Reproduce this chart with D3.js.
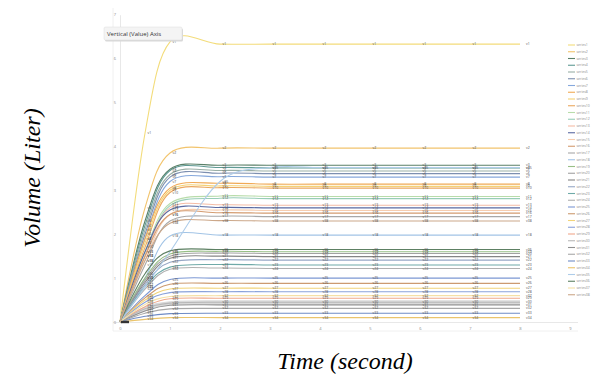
<!DOCTYPE html>
<html>
<head>
<meta charset="utf-8">
<script src="https://cdn.jsdelivr.net/npm/d3@7"></script>
<style>
  html, body { margin: 0; padding: 0; background: #fff; }
  svg { display: block; }
</style>
</head>
<body>
<div id="root"></div>
<script>
// sample times (second)
const times = [0, 0.5, 1, 2, 3, 4, 5, 6, 7, 8];
const xTicks = [0, 1, 2, 3, 4, 5, 6, 7, 8, 9];
const yTicks = [0, 1, 2, 3, 4, 5, 6, 7];

const seriesNames = d3.range(1, 39).map(i => "series" + i);
const pointLabels = d3.range(1, 39).map(i => "v" + i);

const seriesColors = [
  "#f3dc7a", "#f2c46d", "#5a8068", "#5f9a94", "#9aafa6", "#7d8fb0", "#86a8dc", "#f0aa55",
  "#f5d275", "#eaa860", "#b8dcaa", "#98cdb8", "#f4bca6", "#5a6aa2", "#f6cdb0", "#d49c70",
  "#a8a8a8", "#a2c4e6", "#98bf86", "#a2a2a2", "#858585", "#97a8c6", "#6faaa8", "#b0b0b0",
  "#7c98d4", "#cc9a70", "#f2d47a", "#8aa2da", "#f0a88c", "#b8b8b8", "#909090", "#a8a8a8",
  "#6f8cc6", "#eac46c", "#aecce9", "#5d8063", "#f5e0a6", "#cca88a"
];

// volume (liter) at each sample time
const volumes = [
  [0, 4.30, 6.38, 6.33, 6.33, 6.33, 6.33, 6.33, 6.33, 6.33],
  [0, 2.60, 3.85, 3.96, 3.96, 3.96, 3.96, 3.96, 3.96, 3.96],
  [0, 2.30, 3.48, 3.57, 3.57, 3.57, 3.57, 3.57, 3.57, 3.57],
  [0, 2.20, 3.45, 3.52, 3.51, 3.51, 3.51, 3.51, 3.51, 3.51],
  [0, 2.10, 3.36, 3.45, 3.44, 3.44, 3.44, 3.44, 3.44, 3.44],
  [0, 2.00, 3.30, 3.39, 3.38, 3.38, 3.38, 3.38, 3.38, 3.38],
  [0, 1.90, 3.20, 3.31, 3.30, 3.30, 3.30, 3.30, 3.30, 3.30],
  [0, 1.90, 3.05, 3.16, 3.14, 3.14, 3.14, 3.14, 3.14, 3.14],
  [0, 1.80, 3.00, 3.10, 3.09, 3.09, 3.09, 3.09, 3.09, 3.09],
  [0, 1.70, 2.95, 3.06, 3.05, 3.05, 3.05, 3.05, 3.05, 3.05],
  [0, 1.60, 2.70, 2.87, 2.86, 2.86, 2.86, 2.86, 2.86, 2.86],
  [0, 1.50, 2.65, 2.82, 2.81, 2.81, 2.81, 2.81, 2.81, 2.81],
  [0, 1.50, 2.60, 2.67, 2.66, 2.66, 2.66, 2.66, 2.66, 2.66],
  [0, 1.60, 2.55, 2.61, 2.60, 2.60, 2.60, 2.60, 2.60, 2.60],
  [0, 1.40, 2.45, 2.55, 2.54, 2.54, 2.54, 2.54, 2.54, 2.54],
  [0, 1.50, 2.45, 2.49, 2.48, 2.48, 2.48, 2.48, 2.48, 2.48],
  [0, 1.30, 2.30, 2.41, 2.40, 2.40, 2.40, 2.40, 2.40, 2.40],
  [0, 1.00, 1.96, 1.98, 1.98, 1.98, 1.98, 1.98, 1.98, 1.98],
  [0, 1.00, 1.55, 1.61, 1.60, 1.60, 1.60, 1.60, 1.60, 1.60],
  [0, 0.95, 1.50, 1.57, 1.56, 1.56, 1.56, 1.56, 1.56, 1.56],
  [0, 0.90, 1.45, 1.50, 1.49, 1.49, 1.49, 1.49, 1.49, 1.49],
  [0, 0.85, 1.36, 1.42, 1.41, 1.41, 1.41, 1.41, 1.41, 1.41],
  [0, 0.80, 1.25, 1.31, 1.30, 1.30, 1.30, 1.30, 1.30, 1.30],
  [0, 0.75, 1.20, 1.23, 1.22, 1.22, 1.22, 1.22, 1.22, 1.22],
  [0, 0.60, 0.97, 1.00, 1.00, 1.00, 1.00, 1.00, 1.00, 1.00],
  [0, 0.55, 0.86, 0.88, 0.88, 0.88, 0.88, 0.88, 0.88, 0.88],
  [0, 0.50, 0.75, 0.77, 0.77, 0.77, 0.77, 0.77, 0.77, 0.77],
  [0, 0.45, 0.67, 0.69, 0.69, 0.69, 0.69, 0.69, 0.69, 0.69],
  [0, 0.35, 0.53, 0.54, 0.54, 0.54, 0.54, 0.54, 0.54, 0.54],
  [0, 0.30, 0.43, 0.45, 0.45, 0.45, 0.45, 0.45, 0.45, 0.45],
  [0, 0.25, 0.38, 0.39, 0.39, 0.39, 0.39, 0.39, 0.39, 0.39],
  [0, 0.20, 0.30, 0.31, 0.31, 0.31, 0.31, 0.31, 0.31, 0.31],
  [0, 0.13, 0.19, 0.20, 0.20, 0.20, 0.20, 0.20, 0.20, 0.20],
  [0, 0.06, 0.10, 0.10, 0.10, 0.10, 0.10, 0.10, 0.10, 0.10],
  [0, 0.80, 1.60, 3.20, 3.52, 3.52, 3.52, 3.52, 3.52, 3.52],
  [0, 1.10, 1.62, 1.65, 1.65, 1.65, 1.65, 1.65, 1.65, 1.65],
  [0, 0.40, 0.58, 0.60, 0.60, 0.60, 0.60, 0.60, 0.60, 0.60],
  [0, 1.40, 2.25, 2.31, 2.30, 2.30, 2.30, 2.30, 2.30, 2.30]
];

const width = 592;
const height = 379;

const svg = d3.select("#root")
  .append("svg")
    .attr("width", width)
    .attr("height", height)
    .attr("viewBox", `0 0 ${width} ${height}`);

const xScale = d3.scaleLinear().domain([0, 9]).range([120, 570]);
const yScale = d3.scaleLinear().domain([0, 7]).range([322, 14.7]);

// chart frame lines
svg.append("line")
  .attr("x1", 113).attr("x2", 113).attr("y1", 8).attr("y2", 331)
  .attr("stroke", "#ececec").attr("stroke-width", 0.8);
svg.append("line")
  .attr("x1", 113).attr("x2", 578).attr("y1", 331).attr("y2", 331)
  .attr("stroke", "#ececec").attr("stroke-width", 0.8);

// axes
const xAxis = svg.append("g")
  .attr("transform", `translate(0, ${yScale(0)})`)
  .call(d3.axisBottom(xScale).tickValues(xTicks).tickFormat(d3.format("d")).tickSize(0).tickPadding(5));
const yAxis = svg.append("g")
  .attr("transform", `translate(${xScale(0)}, 0)`)
  .call(d3.axisLeft(yScale).tickValues(yTicks).tickFormat(d3.format("d")).tickSize(0).tickPadding(4));

[xAxis, yAxis].forEach(a => {
  a.select(".domain").attr("stroke", "#e2e2e2").attr("stroke-width", 0.8);
  a.selectAll("text")
    .attr("fill", "#8a8a8a")
    .style("font-family", "Open Sans, sans-serif")
    .style("font-size", "4px");
});
xAxis.select(".domain").attr("d", `M${113 - 120},0.5H${578 - 120}`)
  .attr("transform", "translate(120,0)");

// series lines
const lineCreator = d3.line()
  .x((d, i) => xScale(times[i]))
  .y(d => yScale(d))
  .curve(d3.curveCardinal.tension(0));

// highlighted series halo
svg.append("path")
  .datum(volumes[29])
  .attr("d", lineCreator)
  .attr("fill", "none")
  .attr("stroke", "#dadada")
  .attr("stroke-width", 4);

svg.append("g")
  .selectAll("path")
  .data(volumes)
  .enter()
  .append("path")
    .attr("d", lineCreator)
    .attr("fill", "none")
    .attr("stroke-width", 1.1)
    .attr("stroke", (d, i) => seriesColors[i]);

// small marker blob at the origin
svg.append("rect")
  .attr("x", xScale(0) + 1).attr("y", yScale(0) - 1.2)
  .attr("width", 8).attr("height", 2.4)
  .attr("fill", "#333");

// point labels (skip the origin point)
const labelGroup = svg.append("g")
  .style("font-family", "Open Sans, sans-serif")
  .style("font-size", "3.4px")
  .attr("fill", "#4a4a4a");

volumes.forEach((vals, s) => {
  labelGroup.selectAll(null)
    .data(vals.slice(1))
    .enter()
    .append("text")
      .attr("x", (d, i) => xScale(times[i + 1]) + (i === vals.length - 2 ? 6 : 2.5))
      .attr("y", d => yScale(d) + 1.1)
      .text(pointLabels[s]);
});

// legend
const legend = svg.append("g")
  .style("font-family", "Open Sans, sans-serif")
  .style("font-size", "3.4px");
const legendItem = legend.selectAll("g")
  .data(seriesNames)
  .enter()
  .append("g")
    .attr("transform", (d, i) => `translate(568, ${45 + i * 6.75})`);
legendItem.append("line")
  .attr("x1", 0).attr("x2", 7)
  .attr("stroke", (d, i) => seriesColors[i])
  .attr("stroke-width", 1.1);
legendItem.append("text")
  .attr("x", 8.5).attr("y", 1.2)
  .attr("fill", "#8a8a8a")
  .text(d => d);

// tooltip
const tip = svg.append("g").attr("transform", "translate(104, 27)");
tip.append("rect")
  .attr("x", 1).attr("y", 1.5)
  .attr("width", 78).attr("height", 13)
  .attr("rx", 1.5)
  .attr("fill", "#d8d8d8");
tip.append("rect")
  .attr("width", 78).attr("height", 13)
  .attr("rx", 1.5)
  .attr("fill", "#f4f4f4")
  .attr("stroke", "#dddddd")
  .attr("stroke-width", 0.5);
tip.append("text")
  .attr("x", 3).attr("y", 8.6)
  .attr("fill", "#333")
  .style("font-family", "Open Sans, sans-serif")
  .style("font-size", "6px")
  .text("Vertical (Value) Axis");

// axis titles
svg.append("text")
  .text("Volume (Liter)")
  .attr("transform", `translate(40, 178) rotate(-90)`)
  .attr("text-anchor", "middle")
  .style("font-family", "Liberation Serif, serif")
  .style("font-style", "italic")
  .style("font-size", "24px")
  .attr("fill", "#000");
svg.append("text")
  .text("Time (second)")
  .attr("x", 345)
  .attr("y", 369)
  .attr("text-anchor", "middle")
  .style("font-family", "Liberation Serif, serif")
  .style("font-style", "italic")
  .style("font-size", "24px")
  .attr("fill", "#000");
</script>
</body>
</html>
